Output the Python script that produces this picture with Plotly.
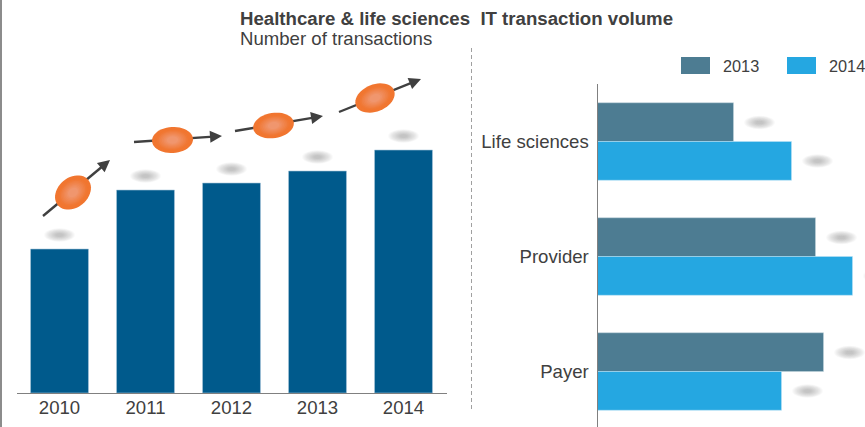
import math
import plotly.graph_objects as go

W, H = 865, 427

years = ["2010", "2011", "2012", "2013", "2014"]
transactions = [144, 203, 210, 222, 243]

segments = ["Life sciences", "Provider", "Payer"]
volume_2013 = [136, 218, 226]
volume_2014 = [194, 255, 184]

DARK = "#005A8C"
C2013 = "#4D7C92"
C2014 = "#25A7E1"
TEXT = "#404040"
AXIS = "#808080"
FONT = "Liberation Sans, Arial, sans-serif"

LEFT_DOM = (16.5 / W, 446.5 / W)
RIGHT_DOM = (597.5 / W, 1.0)


def px(x):
    return x / W


def py(y):
    return 1 - y / H


fig = go.Figure()
fig.add_bar(x=years, y=transactions, marker=dict(color=DARK, line=dict(color="#A9C6DA", width=0.6)),
            xaxis="x", yaxis="y", showlegend=False, hoverinfo="skip")
fig.add_bar(y=segments, x=volume_2013, orientation="h", name="2013",
            marker=dict(color=C2013, line=dict(color="#C4D6DE", width=0.5)),
            xaxis="x2", yaxis="y2", showlegend=False, hoverinfo="skip")
fig.add_bar(y=segments, x=volume_2014, orientation="h", name="2014",
            marker=dict(color=C2014, line=dict(color="#BFE3F6", width=0.5)),
            xaxis="x2", yaxis="y2", showlegend=False, hoverinfo="skip")

shapes = []
BLOB_STEPS = 14


def blob_sizes():
    for i in range(BLOB_STEPS):
        f = 1 - i / BLOB_STEPS * 0.85
        yield 15.5 * f, 6.8 * f


def blob_v(index, val, off=14):
    for w, h in blob_sizes():
        shapes.append(dict(type="circle", xref="x", yref="y", xsizemode="pixel", ysizemode="pixel",
                           xanchor=index, yanchor=val, x0=-w, x1=w, y0=off - h, y1=off + h,
                           line=dict(width=0), fillcolor="#808080", opacity=0.04, layer="above"))


def blob_h(index, val, offy, off=26):
    for w, h in blob_sizes():
        shapes.append(dict(type="circle", xref="x2", yref="y2", xsizemode="pixel", ysizemode="pixel",
                           xanchor=val, yanchor=index, x0=off - w, x1=off + w, y0=offy - h, y1=offy + h,
                           line=dict(width=0), fillcolor="#808080", opacity=0.04, layer="above"))


for i, v in enumerate(transactions):
    blob_v(i, v)
for i, (a, b) in enumerate(zip(volume_2013, volume_2014)):
    blob_h(i, a, 19)
    blob_h(i, b, -19.5)

# frame and separator
shapes.append(dict(type="line", xref="paper", yref="paper", x0=px(1), x1=px(1), y0=0, y1=1,
                   line=dict(color="#8C8C8C", width=2)))
shapes.append(dict(type="line", xref="paper", yref="paper", x0=px(471.5), x1=px(471.5), y0=py(48), y1=py(412),
                   line=dict(color="#A0A0A0", width=1, dash="4px,3px")))

# legend swatches
for x0, col in ((681, C2013), (787, C2014)):
    shapes.append(dict(type="rect", xref="paper", yref="paper", x0=px(x0), x1=px(x0 + 29),
                       y0=py(57), y1=py(74), fillcolor=col, line=dict(width=0)))

annotations = []
# growth arrows: shaft drawn below the ovals, head as a short annotation on top
HEAD_LEN = 12
for (x0, y0, x1, y1) in ((43, 216, 110, 160), (134, 142, 222, 136), (235, 131, 323, 116), (339, 112, 421, 79)):
    L = math.hypot(x1 - x0, y1 - y0)
    ux, uy = (x1 - x0) / L, (y1 - y0) / L
    shapes.append(dict(type="line", xref="paper", yref="paper", x0=px(x0), y0=py(y0),
                       x1=px(x1 - ux * 5), y1=py(y1 - uy * 5), line=dict(color="#404040", width=2.4),
                       layer="above"))
    annotations.append(dict(xref="paper", yref="paper", x=px(x1), y=py(y1), ax=-ux * HEAD_LEN, ay=-uy * HEAD_LEN,
                            axref="pixel", ayref="pixel", showarrow=True, arrowhead=2, arrowsize=1,
                            arrowwidth=2.4, arrowcolor="#404040", text="", standoff=0, startstandoff=0))


# orange growth ovals
def oval(cx, cy, a, b, deg):
    n = 10
    r = math.radians(deg)
    for i in range(n):
        t = i / (n - 1)
        f = 1 - t * 0.72
        g = max(0.0, (t - 0.25) / 0.75)
        col = "rgb(%d,%d,%d)" % (241 - g, 118 + 32 * g, 48 + 62 * g)
        pts = []
        for k in range(48):
            th = 2 * math.pi * k / 48
            ex, ey = a * f * math.cos(th), b * f * math.sin(th)
            pts.append((cx + ex * math.cos(r) - ey * math.sin(r), cy + ex * math.sin(r) + ey * math.cos(r)))
        path = "M" + "L".join(f"{px(p[0]):.5f},{py(p[1]):.5f}" for p in pts) + "Z"
        shapes.append(dict(type="path", xref="paper", yref="paper", path=path, fillcolor=col,
                           line=dict(width=0), layer="above"))


oval(73, 192.5, 19.8, 15, -40)
oval(172.5, 140, 20.5, 13, -3)
oval(273.5, 125.5, 20.5, 12.6, -9)
oval(375, 98, 20.5, 13.5, -22)


def label(text, x, y, size, bold=False, anchor="left"):
    annotations.append(dict(xref="paper", yref="paper", x=px(x), y=py(y), text=f"<b>{text}</b>" if bold else text,
                            showarrow=False, xanchor=anchor, yanchor="middle",
                            font=dict(family=FONT, size=size, color=TEXT), borderpad=0, borderwidth=0))


label("Healthcare &amp; life sciences&nbsp;&nbsp;IT transaction volume", 240, 18, 18.65, bold=True)
label("Number of transactions", 240, 38.5, 18.6)
label("2013", 723, 65.5, 16.3)
label("2014", 829, 65.5, 16.3)

fig.update_layout(
    width=W, height=H, margin=dict(l=0, r=0, t=0, b=0, autoexpand=False), autosize=False,
    paper_bgcolor="white", plot_bgcolor="white", showlegend=False,
    barmode="group", bargap=0.326, bargroupgap=0,
    shapes=shapes, annotations=annotations, font=dict(family=FONT, color=TEXT),
    xaxis=dict(domain=LEFT_DOM, type="category", range=[-0.5, 4.5], showgrid=False, showline=True,
               linecolor=AXIS, linewidth=1, ticks="", ticklabelstandoff=-2,
               tickfont=dict(size=18.6, color=TEXT, family=FONT), anchor="y"),
    yaxis=dict(domain=[py(393), 1], range=[0, 393], visible=False, fixedrange=True, anchor="x"),
    xaxis2=dict(domain=RIGHT_DOM, range=[0, 267.5], visible=False, anchor="y2"),
    yaxis2=dict(domain=[0, py(84)], type="category", range=[2.4826, -0.5], showgrid=False, showline=True,
                linecolor=AXIS, linewidth=1, ticks="outside", ticklen=4, tickcolor="rgba(0,0,0,0)",
                tickfont=dict(size=18.6, color=TEXT, family=FONT), anchor="x2"),
)

fig.write_html("out.html", config=dict(displayModeBar=False),
               post_script="document.body.style.margin='0';document.documentElement.style.overflow='hidden';")
